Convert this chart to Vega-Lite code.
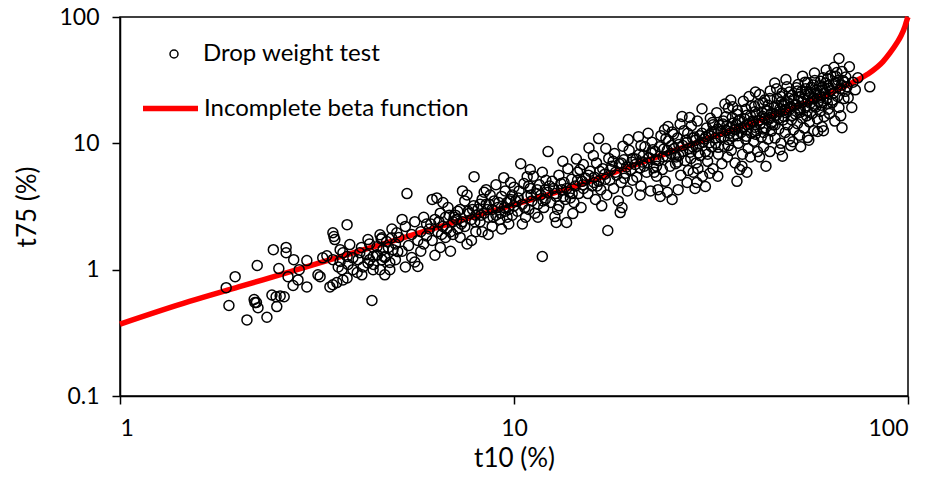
{
 "$schema": "https://vega.github.io/schema/vega-lite/v6.json",
 "width": 788, "height": 379,
 "autosize": {"type": "none"},
 "padding": {"left": 120, "top": 17, "right": 22, "bottom": 81},
 "background": "white",
 "config": {
  "font": "Lato",
  "view": {"stroke": "black", "strokeWidth": 1.5},
  "axis": {"grid": false, "domainColor": "black", "domainWidth": 1.5, "tickColor": "black", "tickWidth": 1.5, "tickSize": 8,
   "labelFontSize": 23, "labelColor": "black", "labelFont": "Lato", "titleFont": "Lato", "titleFontSize": 26, "titleFontWeight": "normal", "titleColor": "black"},
  "legend": {"labelFont": "Lato", "labelFontSize": 24, "labelColor": "black", "padding": 0, "title": null, "labelLimit": 0}
 },
 "datasets": {
  "curve": [
   {"t10":1,"t75":0.37},{"t10":1.5,"t75":0.56},{"t10":2,"t75":0.73},{"t10":3,"t75":1.06},{"t10":4,"t75":1.39},{"t10":5,"t75":1.71},{"t10":7,"t75":2.36},{"t10":10,"t75":3.27},{"t10":15,"t75":4.8},{"t10":20,"t75":6.66},{"t10":30,"t75":10.5},{"t10":40,"t75":14.4},{"t10":50,"t75":18.5},{"t10":60,"t75":23},{"t10":70,"t75":28.8},{"t10":78.7,"t75":35},{"t10":86.4,"t75":44.4},{"t10":90,"t75":52},{"t10":93.8,"t75":62.7},{"t10":96,"t75":71},{"t10":98.2,"t75":84},{"t10":99.4,"t75":95},{"t10":100,"t75":100}
  ],
  "pts": [
   {"t10":1.86,"t75":0.72},{"t10":1.96,"t75":0.88},{"t10":1.89,"t75":0.52},{"t10":2.10,"t75":0.40},{"t10":2.23,"t75":1.08},{"t10":2.2,"t75":0.55},{"t10":2.22,"t75":0.55},{"t10":2.24,"t75":0.50},{"t10":2.19,"t75":0.58},{"t10":2.36,"t75":0.42},{"t10":2.45,"t75":1.44},{"t10":2.64,"t75":1.50},{"t10":2.64,"t75":1.36},{"t10":2.53,"t75":1.02},{"t10":2.76,"t75":1.20},{"t10":2.67,"t75":0.88},{"t10":2.85,"t75":1.00},{"t10":2.98,"t75":1.18},{"t10":2.75,"t75":0.75},{"t10":2.83,"t75":0.83},{"t10":2.98,"t75":0.73},{"t10":2.43,"t75":0.63},{"t10":2.49,"t75":0.61},{"t10":2.55,"t75":0.62},{"t10":2.61,"t75":0.61},{"t10":2.50,"t75":0.51},
   {"t10":3.77,"t75":2.27},{"t10":3.47,"t75":1.96},{"t10":3.49,"t75":1.83},{"t10":3.51,"t75":1.73},{"t10":3.35,"t75":1.29},{"t10":3.27,"t75":1.24},{"t10":3.18,"t75":0.91},{"t10":3.22,"t75":0.88},{"t10":3.47,"t75":0.76},{"t10":3.41,"t75":0.73},{"t10":3.55,"t75":0.79},{"t10":3.68,"t75":0.83},{"t10":3.77,"t75":0.86},{"t10":3.62,"t75":1.44},{"t10":3.68,"t75":1.36},{"t10":3.83,"t75":1.58},{"t10":3.58,"t75":1.05},{"t10":3.66,"t75":1.00},{"t10":3.79,"t75":1.10},{"t10":3.90,"t75":1.00},{"t10":4.02,"t75":1.20},{"t10":4.14,"t75":1.05},{"t10":4.26,"t75":1.13},{"t10":4.39,"t75":1.00},{"t10":4.57,"t75":1.00},{"t10":4.70,"t75":0.91},{"t10":4.84,"t75":1.00},{"t10":4.11,"t75":0.91},{"t10":4.00,"t75":0.95},{"t10":4.36,"t75":0.57},{"t10":4.26,"t75":1.73},{"t10":4.57,"t75":1.89},{"t10":4.62,"t75":1.79},{"t10":4.75,"t75":1.67},{"t10":4.89,"t75":1.79},{"t10":5.04,"t75":1.96},{"t10":4.49,"t75":1.52},{"t10":4.65,"t75":1.44},{"t10":4.93,"t75":1.44},{"t10":5.07,"t75":1.39},{"t10":4.70,"t75":1.27},{"t10":4.84,"t75":1.14},{"t10":4.62,"t75":1.20},{"t10":4.49,"t75":1.31},{"t10":4.39,"t75":1.27},{"t10":4.30,"t75":1.20},{"t10":4.23,"t75":1.31},{"t10":4.06,"t75":1.36},{"t10":3.90,"t75":1.24},{"t10":3.77,"t75":1.27},{"t10":3.62,"t75":1.16},{"t10":3.47,"t75":1.20},
   {"t10":4.1,"t75":1.5},{"t10":4.3,"t75":1.6},{"t10":4.5,"t75":1.3},{"t10":4.6,"t75":1.75},{"t10":4.8,"t75":1.5},{"t10":4.9,"t75":2.1},{"t10":4.4,"t75":1.1},{"t10":4.7,"t75":1.25},{"t10":5.0,"t75":1.6},{"t10":5.0,"t75":1.2},
   {"t10":5.1,"t75":1.8},{"t10":5.2,"t75":1.4},{"t10":5.3,"t75":2.2},{"t10":5.35,"t75":4.0},{"t10":5.4,"t75":1.55},{"t10":5.5,"t75":1.9},{"t10":5.5,"t75":1.25},{"t10":5.6,"t75":2.4},{"t10":5.7,"t75":1.7},{"t10":5.7,"t75":1.06},{"t10":5.8,"t75":2.0},{"t10":5.8,"t75":1.4},{"t10":5.9,"t75":2.6},{"t10":5.9,"t75":1.6},{"t10":6.0,"t75":1.85},{"t10":6.0,"t75":2.3},{"t10":5.3,"t75":1.05},{"t10":5.6,"t75":1.15},{"t10":5.2,"t75":2.5},
   {"t10":6.1,"t75":2.1},{"t10":6.2,"t75":3.6},{"t10":6.2,"t75":1.7},{"t10":6.3,"t75":2.5},{"t10":6.37,"t75":3.7},{"t10":6.4,"t75":2.0},{"t10":6.5,"t75":1.5},{"t10":6.5,"t75":2.8},{"t10":6.6,"t75":2.2},{"t10":6.7,"t75":1.8},{"t10":6.7,"t75":2.6},{"t10":6.8,"t75":3.1},{"t10":6.9,"t75":2.0},{"t10":6.9,"t75":1.4},{"t10":7.0,"t75":2.4},{"t10":7.0,"t75":1.9},{"t10":6.3,"t75":1.3},{"t10":6.6,"t75":3.4},
   {"t10":7.1,"t75":2.7},{"t10":7.2,"t75":2.1},{"t10":7.3,"t75":3.0},{"t10":7.3,"t75":1.8},{"t10":7.4,"t75":2.4},{"t10":7.5,"t75":3.5},{"t10":7.5,"t75":2.2},{"t10":7.6,"t75":1.6},{"t10":7.7,"t75":2.8},{"t10":7.8,"t75":2.5},{"t10":7.9,"t75":3.2},{"t10":7.92,"t75":5.45},{"t10":8.0,"t75":2.0},{"t10":8.0,"t75":2.7},{"t10":7.4,"t75":4.2},{"t10":7.6,"t75":3.9},{"t10":7.2,"t75":2.9},{"t10":7.8,"t75":1.7},
   {"t10":8.1,"t75":3.0},{"t10":8.2,"t75":2.4},{"t10":8.3,"t75":3.6},{"t10":8.3,"t75":2.0},{"t10":8.4,"t75":2.8},{"t10":8.5,"t75":3.3},{"t10":8.5,"t75":4.3},{"t10":8.6,"t75":2.6},{"t10":8.7,"t75":3.9},{"t10":8.8,"t75":2.2},{"t10":8.8,"t75":3.0},{"t10":8.9,"t75":3.5},{"t10":9.0,"t75":2.7},{"t10":9.0,"t75":4.7},{"t10":8.4,"t75":4.1},{"t10":8.6,"t75":1.9},{"t10":8.2,"t75":3.3},
   {"t10":9.1,"t75":3.1},{"t10":9.2,"t75":2.5},{"t10":9.3,"t75":3.8},{"t10":9.42,"t75":5.35},{"t10":9.5,"t75":2.9},{"t10":9.5,"t75":4.2},{"t10":9.6,"t75":3.4},{"t10":9.7,"t75":2.3},{"t10":9.7,"t75":3.0},{"t10":9.8,"t75":3.6},{"t10":9.9,"t75":2.7},{"t10":10.0,"t75":3.2},{"t10":10.0,"t75":4.5},{"t10":9.3,"t75":2.1},{"t10":9.8,"t75":4.9},{"t10":9.6,"t75":2.6},
   {"t10":10.1,"t75":3.5},{"t10":10.2,"t75":2.9},{"t10":10.3,"t75":4.2},{"t10":10.4,"t75":6.9},{"t10":10.5,"t75":3.3},{"t10":10.6,"t75":4.8},{"t10":10.7,"t75":2.6},{"t10":10.8,"t75":5.45},{"t10":10.8,"t75":3.8},{"t10":10.9,"t75":3.0},{"t10":11.0,"t75":4.4},{"t10":11.1,"t75":3.5},{"t10":11.2,"t75":5.5},{"t10":11.3,"t75":2.8},{"t10":11.4,"t75":4.0},{"t10":11.5,"t75":3.3},{"t10":11.6,"t75":4.7},{"t10":11.7,"t75":3.9},{"t10":11.8,"t75":1.27},{"t10":11.8,"t75":5.9},{"t10":11.9,"t75":3.1},{"t10":12.0,"t75":4.3},{"t10":12.0,"t75":3.6},{"t10":10.5,"t75":2.3},{"t10":11.0,"t75":6.2},{"t10":11.5,"t75":2.6},{"t10":12.2,"t75":8.6},
   {"t10":12.2,"t75":4.1},{"t10":12.4,"t75":3.4},{"t10":12.5,"t75":5.0},{"t10":12.7,"t75":2.63},{"t10":12.8,"t75":2.36},{"t10":12.6,"t75":4.4},{"t10":12.8,"t75":3.8},{"t10":13.0,"t75":5.6},{"t10":13.0,"t75":3.2},{"t10":13.2,"t75":4.3},{"t10":13.4,"t75":4.9},{"t10":13.5,"t75":3.6},{"t10":13.6,"t75":2.36},{"t10":13.7,"t75":6.3},{"t10":13.8,"t75":4.1},{"t10":14.0,"t75":5.2},{"t10":14.1,"t75":2.78},{"t10":14.2,"t75":3.4},{"t10":14.3,"t75":4.6},{"t10":14.5,"t75":5.9},{"t10":14.6,"t75":4.0},{"t10":14.8,"t75":3.1},{"t10":14.9,"t75":5.0},{"t10":15.0,"t75":4.4},{"t10":15.0,"t75":6.8},{"t10":13.3,"t75":7.2},{"t10":14.4,"t75":7.5},{"t10":12.9,"t75":3.0},{"t10":13.9,"t75":3.7},
   {"t10":15.2,"t75":5.3},{"t10":15.5,"t75":9.2},{"t10":15.4,"t75":4.0},{"t10":15.6,"t75":6.0},{"t10":15.8,"t75":4.6},{"t10":16.0,"t75":5.4},{"t10":16.1,"t75":3.6},{"t10":16.2,"t75":7.0},{"t10":16.4,"t75":10.9},{"t10":16.4,"t75":5.0},{"t10":16.6,"t75":4.3},{"t10":16.8,"t75":6.3},{"t10":17.0,"t75":5.7},{"t10":17.2,"t75":3.9},{"t10":17.3,"t75":2.04},{"t10":17.4,"t75":7.6},{"t10":17.5,"t75":5.1},{"t10":17.7,"t75":6.6},{"t10":17.9,"t75":4.4},{"t10":18.0,"t75":8.3},{"t10":18.2,"t75":5.6},{"t10":18.4,"t75":3.5},{"t10":18.5,"t75":6.9},{"t10":18.6,"t75":2.83},{"t10":18.8,"t75":3.1},{"t10":18.7,"t75":4.9},{"t10":19.0,"t75":7.4},{"t10":19.2,"t75":5.8},{"t10":19.5,"t75":10.7},{"t10":19.4,"t75":4.2},{"t10":19.6,"t75":8.8},{"t10":19.8,"t75":6.2},{"t10":20.0,"t75":5.1},{"t10":20.0,"t75":7.6},{"t10":15.9,"t75":8.0},{"t10":17.1,"t75":9.1},{"t10":18.9,"t75":9.5},{"t10":16.7,"t75":3.2},
   {"t10":20.3,"t75":6.8},{"t10":20.7,"t75":11.3},{"t10":20.5,"t75":5.4},{"t10":20.8,"t75":8.2},{"t10":21.0,"t75":4.6},{"t10":21.2,"t75":7.1},{"t10":21.5,"t75":9.4},{"t10":21.7,"t75":5.9},{"t10":22.0,"t75":7.7},{"t10":22.2,"t75":4.2},{"t10":22.4,"t75":10.2},{"t10":22.6,"t75":6.4},{"t10":22.8,"t75":8.6},{"t10":23.0,"t75":5.5},{"t10":23.2,"t75":4.3},{"t10":23.3,"t75":7.3},{"t10":23.6,"t75":11.5},{"t10":23.8,"t75":6.2},{"t10":24.0,"t75":9.0},{"t10":24.1,"t75":12.8},{"t10":24.2,"t75":5.0},{"t10":24.5,"t75":4.1},{"t10":24.4,"t75":7.9},{"t10":24.7,"t75":10.5},{"t10":24.9,"t75":6.6},{"t10":25.0,"t75":8.3},{"t10":25.2,"t75":3.6},{"t10":25.2,"t75":12.3},{"t10":20.9,"t75":3.9},{"t10":21.9,"t75":12.0},{"t10":23.5,"t75":3.8},{"t10":22.5,"t75":8.9},{"t10":21.4,"t75":6.6},{"t10":24.6,"t75":13.6},
   {"t10":25.5,"t75":9.1},{"t10":25.7,"t75":6.9},{"t10":26.0,"t75":11.0},{"t10":26.1,"t75":4.3},{"t10":26.2,"t75":8.0},{"t10":26.5,"t75":5.6},{"t10":26.7,"t75":16.3},{"t10":26.8,"t75":9.6},{"t10":27.0,"t75":12.6},{"t10":27.2,"t75":7.3},{"t10":27.5,"t75":4.9},{"t10":27.5,"t75":10.2},{"t10":27.7,"t75":6.1},{"t10":28.0,"t75":8.5},{"t10":28.2,"t75":13.8},{"t10":28.5,"t75":5.9},{"t10":28.4,"t75":9.4},{"t10":28.8,"t75":4.4},{"t10":28.7,"t75":11.2},{"t10":29.0,"t75":7.0},{"t10":29.1,"t75":4.9},{"t10":29.2,"t75":15.0},{"t10":29.5,"t75":9.9},{"t10":29.7,"t75":8.0},{"t10":30.0,"t75":18.8},{"t10":30.0,"t75":12.0},{"t10":30.1,"t75":5.5},{"t10":26.4,"t75":14.2},{"t10":27.9,"t75":16.0},{"t10":29.3,"t75":6.3},{"t10":25.8,"t75":7.8},{"t10":28.9,"t75":10.6},
   {"t10":30.4,"t75":10.8},{"t10":30.6,"t75":4.55},{"t10":30.6,"t75":8.6},{"t10":30.8,"t75":13.2},{"t10":31.0,"t75":7.2},{"t10":31.2,"t75":11.6},{"t10":31.5,"t75":15.8},{"t10":31.7,"t75":9.4},{"t10":32.0,"t75":6.3},{"t10":32.2,"t75":12.4},{"t10":32.5,"t75":10.0},{"t10":32.7,"t75":17.5},{"t10":33.0,"t75":8.2},{"t10":33.2,"t75":13.9},{"t10":33.5,"t75":11.1},{"t10":33.7,"t75":6.9},{"t10":34.0,"t75":15.0},{"t10":34.2,"t75":9.5},{"t10":34.5,"t75":12.6},{"t10":34.8,"t75":7.8},{"t10":35.0,"t75":19.0},{"t10":35.0,"t75":10.7},{"t10":35.9,"t75":19.5},{"t10":31.4,"t75":5.8},{"t10":32.9,"t75":5.5},{"t10":34.3,"t75":20.5},{"t10":33.9,"t75":14.2},{"t10":31.9,"t75":14.6},
   {"t10":35.3,"t75":13.3},{"t10":35.6,"t75":8.8},{"t10":35.8,"t75":16.0},{"t10":36.1,"t75":11.4},{"t10":36.4,"t75":7.0},{"t10":36.6,"t75":14.1},{"t10":36.8,"t75":5.0},{"t10":36.9,"t75":18.2},{"t10":37.1,"t75":10.0},{"t10":37.4,"t75":6.2},{"t10":37.4,"t75":15.4},{"t10":37.7,"t75":12.2},{"t10":38.0,"t75":8.2},{"t10":38.2,"t75":21.5},{"t10":38.4,"t75":13.6},{"t10":38.7,"t75":10.8},{"t10":39.0,"t75":5.9},{"t10":39.0,"t75":16.7},{"t10":39.3,"t75":9.1},{"t10":39.6,"t75":14.3},{"t10":39.8,"t75":7.8},{"t10":40.0,"t75":12.0},{"t10":40.0,"t75":19.8},{"t10":35.5,"t75":22.0},{"t10":37.9,"t75":6.6},{"t10":36.3,"t75":12.8},{"t10":38.9,"t75":11.4},{"t10":39.5,"t75":23.5},
   {"t10":40.3,"t75":15.0},{"t10":40.6,"t75":10.4},{"t10":40.9,"t75":17.8},{"t10":41.2,"t75":12.6},{"t10":41.5,"t75":8.6},{"t10":41.8,"t75":20.4},{"t10":42.0,"t75":7.8},{"t10":42.0,"t75":24.3},{"t10":42.1,"t75":14.2},{"t10":42.4,"t75":11.2},{"t10":42.7,"t75":16.4},{"t10":43.0,"t75":9.4},{"t10":43.3,"t75":22.0},{"t10":43.5,"t75":13.3},{"t10":43.8,"t75":18.0},{"t10":44.1,"t75":10.8},{"t10":44.4,"t75":15.5},{"t10":44.6,"t75":8.6},{"t10":44.7,"t75":26.0},{"t10":45.0,"t75":12.5},{"t10":45.0,"t75":17.2},{"t10":41.0,"t75":25.5},{"t10":43.6,"t75":6.6},{"t10":42.9,"t75":13.0},{"t10":44.2,"t75":20.0},{"t10":40.8,"t75":13.4},
   {"t10":45.4,"t75":14.0},{"t10":45.7,"t75":19.4},{"t10":46.0,"t75":11.0},{"t10":46.4,"t75":27.0},{"t10":46.3,"t75":16.6},{"t10":46.6,"t75":22.5},{"t10":47.0,"t75":13.0},{"t10":47.3,"t75":8.9},{"t10":47.3,"t75":18.8},{"t10":47.6,"t75":10.0},{"t10":47.9,"t75":25.0},{"t10":48.2,"t75":15.3},{"t10":48.5,"t75":20.6},{"t10":48.8,"t75":12.2},{"t10":49.1,"t75":17.5},{"t10":49.3,"t75":28.0},{"t10":49.5,"t75":14.0},{"t10":49.8,"t75":22.8},{"t10":50.0,"t75":10.8},{"t10":50.4,"t75":9.6},{"t10":50.2,"t75":18.7},{"t10":45.9,"t75":30.0},{"t10":48.0,"t75":7.9},{"t10":46.9,"t75":15.7},{"t10":49.0,"t75":32.0},{"t10":47.7,"t75":21.3},
   {"t10":50.6,"t75":15.4},{"t10":50.9,"t75":24.0},{"t10":51.2,"t75":12.8},{"t10":51.5,"t75":20.0},{"t10":51.8,"t75":17.0},{"t10":52.1,"t75":27.5},{"t10":52.4,"t75":14.3},{"t10":52.6,"t75":29.2},{"t10":52.7,"t75":21.6},{"t10":53.0,"t75":11.6},{"t10":53.3,"t75":18.4},{"t10":53.6,"t75":25.6},{"t10":53.9,"t75":15.8},{"t10":54.2,"t75":22.2},{"t10":54.5,"t75":13.2},{"t10":54.8,"t75":30.5},{"t10":55.0,"t75":19.2},{"t10":55.3,"t75":16.5},{"t10":55.6,"t75":11.1},{"t10":55.6,"t75":30.3},{"t10":51.0,"t75":10.3},{"t10":53.4,"t75":9.4},{"t10":54.0,"t75":34.0},{"t10":52.9,"t75":19.0},
   {"t10":55.9,"t75":24.5},{"t10":56.2,"t75":14.8},{"t10":56.5,"t75":20.8},{"t10":56.8,"t75":27.8},{"t10":57.1,"t75":17.2},{"t10":57.4,"t75":22.6},{"t10":57.7,"t75":12.6},{"t10":58.0,"t75":31.5},{"t10":58.3,"t75":19.3},{"t10":58.6,"t75":25.1},{"t10":58.9,"t75":15.6},{"t10":59.2,"t75":21.4},{"t10":59.5,"t75":28.6},{"t10":59.8,"t75":17.9},{"t10":60.0,"t75":23.2},{"t10":60.5,"t75":13.5},{"t10":60.9,"t75":33.0},{"t10":56.0,"t75":10.6},{"t10":57.9,"t75":36.0},{"t10":59.0,"t75":12.4},
   {"t10":60.3,"t75":20.0},{"t10":60.8,"t75":26.4},{"t10":61.3,"t75":16.3},{"t10":61.8,"t75":30.0},{"t10":62.2,"t75":22.5},{"t10":62.7,"t75":18.6},{"t10":63.2,"t75":17.2},{"t10":63.2,"t75":27.3},{"t10":63.7,"t75":34.5},{"t10":64.2,"t75":21.0},{"t10":64.7,"t75":25.0},{"t10":65.2,"t75":15.0},{"t10":65.7,"t75":29.8},{"t10":66.0,"t75":36.3},{"t10":66.2,"t75":23.5},{"t10":66.8,"t75":46.9},{"t10":66.8,"t75":19.2},{"t10":67.3,"t75":27.0},{"t10":68.0,"t75":37.0},{"t10":68.0,"t75":13.3},{"t10":68.3,"t75":31.5},{"t10":68.8,"t75":22.6},{"t10":69.3,"t75":25.8},{"t10":70.0,"t75":28.0},{"t10":70.5,"t75":23.0},{"t10":71.0,"t75":40.4},{"t10":72.0,"t75":19.2},{"t10":72.5,"t75":30.5},{"t10":74.6,"t75":33.0},{"t10":80.0,"t75":28.0},{"t10":62.0,"t75":38.0},{"t10":64.9,"t75":40.0},{"t10":61.0,"t75":12.6},{"t10":67.5,"t75":16.5},{"t10":69.5,"t75":33.5},{"t10":73.5,"t75":26.5},
   {"t10":6.15,"t75":2.3},{"t10":6.45,"t75":2.4},{"t10":6.75,"t75":2.1},{"t10":7.05,"t75":2.6},{"t10":7.35,"t75":2.3},{"t10":7.65,"t75":2.9},{"t10":7.95,"t75":2.4},{"t10":8.25,"t75":2.7},{"t10":8.55,"t75":3.0},{"t10":8.85,"t75":2.6},{"t10":9.15,"t75":3.4},{"t10":9.45,"t75":3.1},{"t10":9.75,"t75":3.5},{"t10":6.55,"t75":1.9},{"t10":7.15,"t75":2.5},{"t10":7.85,"t75":3.0},{"t10":8.65,"t75":3.3},{"t10":9.25,"t75":2.8},{"t10":9.9,"t75":3.9},{"t10":6.85,"t75":2.7},
   {"t10":10.25,"t75":3.7},{"t10":10.65,"t75":3.1},{"t10":11.05,"t75":3.9},{"t10":11.45,"t75":4.3},{"t10":11.85,"t75":3.5},{"t10":12.3,"t75":4.6},{"t10":12.75,"t75":4.0},{"t10":13.15,"t75":4.8},{"t10":13.6,"t75":4.4},{"t10":14.05,"t75":4.0},{"t10":14.5,"t75":5.1},{"t10":14.95,"t75":4.7},{"t10":15.45,"t75":5.6},{"t10":15.95,"t75":4.9},{"t10":16.5,"t75":6.0},{"t10":17.05,"t75":5.2},{"t10":17.6,"t75":6.2},{"t10":18.1,"t75":5.9},{"t10":18.7,"t75":7.0},{"t10":19.3,"t75":6.5},{"t10":19.9,"t75":7.1},{"t10":10.9,"t75":4.6},{"t10":12.05,"t75":5.1},{"t10":13.35,"t75":3.8},{"t10":14.7,"t75":6.2},{"t10":16.25,"t75":4.6},{"t10":17.85,"t75":7.2},{"t10":19.05,"t75":5.3},
   {"t10":20.4,"t75":7.5},{"t10":20.9,"t75":6.4},{"t10":21.3,"t75":8.0},{"t10":21.8,"t75":7.0},{"t10":22.3,"t75":8.4},{"t10":22.9,"t75":7.4},{"t10":23.4,"t75":9.4},{"t10":23.9,"t75":7.8},{"t10":24.5,"t75":8.8},{"t10":25.1,"t75":9.6},{"t10":25.6,"t75":8.1},{"t10":26.2,"t75":9.8},{"t10":26.8,"t75":8.6},{"t10":27.3,"t75":10.6},{"t10":27.8,"t75":9.1},{"t10":28.4,"t75":11.0},{"t10":29.0,"t75":9.4},{"t10":29.6,"t75":11.5},{"t10":30.2,"t75":10.2},{"t10":21.0,"t75":9.6},{"t10":22.7,"t75":5.9},{"t10":24.3,"t75":10.9},{"t10":26.0,"t75":7.1},{"t10":27.6,"t75":12.0},{"t10":29.4,"t75":8.4},{"t10":28.1,"t75":7.6},{"t10":25.4,"t75":11.8},{"t10":23.0,"t75":6.6},
   {"t10":30.7,"t75":11.3},{"t10":31.3,"t75":10.1},{"t10":31.8,"t75":12.2},{"t10":32.4,"t75":11.0},{"t10":32.9,"t75":13.0},{"t10":33.5,"t75":12.4},{"t10":34.1,"t75":11.3},{"t10":34.7,"t75":13.8},{"t10":35.3,"t75":12.0},{"t10":35.9,"t75":14.4},{"t10":36.5,"t75":12.9},{"t10":37.1,"t75":15.0},{"t10":37.8,"t75":13.2},{"t10":38.5,"t75":15.6},{"t10":39.1,"t75":14.0},{"t10":39.8,"t75":16.5},{"t10":40.5,"t75":14.7},{"t10":41.2,"t75":16.8},{"t10":41.9,"t75":15.2},{"t10":42.6,"t75":17.6},{"t10":43.3,"t75":15.8},{"t10":44.0,"t75":18.2},{"t10":44.8,"t75":16.0},{"t10":31.0,"t75":8.2},{"t10":33.0,"t75":9.3},{"t10":35.0,"t75":9.6},{"t10":37.0,"t75":11.5},{"t10":39.0,"t75":12.8},{"t10":41.0,"t75":11.8},{"t10":43.0,"t75":12.2},{"t10":45.0,"t75":14.5},{"t10":32.0,"t75":14.0},{"t10":34.5,"t75":16.2},{"t10":36.8,"t75":17.0},{"t10":38.8,"t75":18.6},{"t10":40.8,"t75":19.6},{"t10":42.8,"t75":21.0},{"t10":44.6,"t75":22.6},
   {"t10":45.6,"t75":17.3},{"t10":46.4,"t75":19.8},{"t10":47.2,"t75":17.8},{"t10":48.0,"t75":20.3},{"t10":48.8,"t75":18.5},{"t10":49.6,"t75":21.0},{"t10":50.4,"t75":19.5},{"t10":51.3,"t75":22.4},{"t10":52.1,"t75":20.2},{"t10":53.0,"t75":23.4},{"t10":53.9,"t75":21.2},{"t10":54.8,"t75":24.3},{"t10":55.7,"t75":22.0},{"t10":56.6,"t75":25.3},{"t10":57.6,"t75":23.0},{"t10":58.6,"t75":26.4},{"t10":59.6,"t75":24.2},{"t10":60.6,"t75":27.5},{"t10":61.6,"t75":25.0},{"t10":62.6,"t75":28.6},{"t10":63.6,"t75":26.0},{"t10":64.6,"t75":29.4},{"t10":46.0,"t75":14.0},{"t10":48.4,"t75":16.3},{"t10":50.8,"t75":16.6},{"t10":53.2,"t75":17.6},{"t10":55.5,"t75":18.0},{"t10":57.8,"t75":19.8},{"t10":60.2,"t75":21.0},{"t10":62.4,"t75":20.8},{"t10":64.4,"t75":22.0},{"t10":47.5,"t75":23.5},{"t10":50.0,"t75":25.5},{"t10":52.5,"t75":26.0},{"t10":55.0,"t75":27.0},{"t10":57.5,"t75":29.0},{"t10":60.0,"t75":31.0},{"t10":62.5,"t75":32.5},{"t10":65.5,"t75":34.0},{"t10":66.5,"t75":31.5},{"t10":67.8,"t75":29.0},{"t10":69.0,"t75":30.5}
  ]
 },
 "layer": [
  {
   "data": {"name": "curve"},
   "mark": {"type": "line", "strokeWidth": 5.5, "color": "#ff0000", "interpolate": "monotone"},
   "encoding": {
    "x": {"field": "t10", "type": "quantitative", "scale": {"type": "log", "domain": [1, 100], "nice": false},
     "axis": {"values": [1, 10, 100], "format": "~g", "title": "t10 (%)", "labelPadding": 13, "titlePadding": 5}},
    "y": {"field": "t75", "type": "quantitative", "scale": {"type": "log", "domain": [0.1, 100], "nice": false},
     "axis": {"values": [0.1, 1, 10, 100], "format": "~g", "title": "t75 (%)", "labelPadding": 13, "titlePadding": 18}},
    "color": {"datum": "Incomplete beta function", "scale": {"range": ["#ff0000"]},
     "legend": {"orient": "none", "legendX": 20, "legendY": 61, "symbolType": "stroke", "symbolSize": 3025, "symbolStrokeWidth": 5.5, "symbolStrokeColor": "#ff0000", "labelOffset": 3, "labelFontSize": 24, "labelLimit": 0, "title": null}}
   }
  },
  {
   "data": {"name": "pts"},
   "mark": {"type": "point", "shape": "circle", "filled": false, "color": "black", "size": 100, "strokeWidth": 1.5, "opacity": 1},
   "encoding": {
    "x": {"field": "t10", "type": "quantitative"},
    "y": {"field": "t75", "type": "quantitative"},
    "shape": {"datum": "Drop weight test", "scale": {"range": ["circle"]},
     "legend": {"orient": "none", "legendX": 42, "legendY": 25, "symbolSize": 64, "symbolStrokeWidth": 1.5, "symbolStrokeColor": "black", "symbolFillColor": "white", "labelOffset": 17, "labelFontSize": 24, "labelLimit": 0, "title": null}}
   }
  }
 ]
}
